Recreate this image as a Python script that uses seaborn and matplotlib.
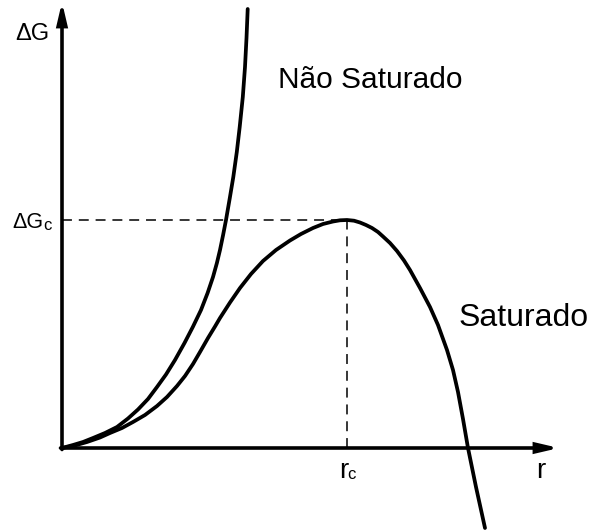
import matplotlib
matplotlib.use("Agg")
import matplotlib.pyplot as plt
import numpy as np
import pandas as pd
import seaborn as sns

# Free-energy curves ΔG(r), arbitrary units (r_c = 57, ΔG_c = 57)
r_sat = [0, 2.2, 5, 7.6, 9.6, 12, 14.2, 16.6, 19, 21,
         23, 24.6, 26.2, 27.6, 29.2, 30.6, 31.6, 33.6, 35.6, 37.8,
         40.2, 42.8, 45.6, 47.8, 50.2, 52.2, 54.2, 55.6, 57, 58.4,
         59.6, 60.8, 62, 63.2, 64.2, 65.6, 67, 68.4, 69.6, 71.6,
         73.6, 75.2, 77, 78.2, 79.2, 80.2, 81.2, 82.8, 84.6]
g_sat = [0, 0.5, 1.5, 2.625, 3.75, 5, 6.5, 8.25, 10.5, 12.75,
         15.5, 18, 21, 24, 27.5, 30.375, 32.5, 36.375, 40, 43.5,
         46.75, 49.5, 51.875, 53.5, 55, 56, 56.625, 56.925, 57, 56.825,
         56.375, 55.75, 55, 54, 52.875, 51.25, 49.25, 46.875, 44.5, 40,
         35.25, 30.75, 24.5, 19.5, 14, 7.25, 0, -9.75, -20]

r_unsat = [0, 2.2, 4.2, 6.2, 8.6, 11, 13.2, 15.2, 17.2, 19,
           20.8, 22.6, 24.5, 26.16, 27.8, 29.12, 30.2, 30.98, 31.6, 32.22,
           32.8, 33.56, 34.26, 34.96, 35.54, 36.16, 36.6, 36.9, 37.14]
g_unsat = [0, 0.75, 1.5, 2.5, 3.75, 5.25, 7.375, 9.625, 12.25, 15.25,
           18.375, 22, 26.25, 30.25, 34.5, 38.75, 42.75, 46.25, 49.5, 53.25,
           57, 62.5, 67.75, 74, 80.25, 87.75, 95.25, 102.5, 109.75]

curve_names = ["Saturado", "Não Saturado"]
r_critical = 57
g_critical = 57

sns.set_style("white")
FONT = ["Liberation Sans", "DejaVu Sans"]

W, H = 593, 531
fig = plt.figure(figsize=(W / 100, H / 100), dpi=100)
ax = fig.add_axes([0, 0, 1, 1])

# Canvas layout: origin pixel and pixels per data unit
X0, Y0, SX, SY = 62, 448, 5.0, 4.0
ax.set_xlim(-X0 / SX, (W - X0) / SX)
ax.set_ylim(-(H - Y0) / SY, Y0 / SY)
ax.axis("off")


def px(x, y):
    return ((x - X0) / SX, (Y0 - y) / SY)


df = pd.concat([
    pd.DataFrame({"r": r_sat, "dG": g_sat, "curva": curve_names[0]}),
    pd.DataFrame({"r": r_unsat, "dG": g_unsat, "curva": curve_names[1]}),
], ignore_index=True)

sns.lineplot(data=df, x="r", y="dG", hue="curva",
             palette={n: "black" for n in curve_names},
             estimator=None, sort=False, lw=2.7, legend=False, ax=ax)
for ln in ax.lines:
    ln.set_solid_capstyle("round")
    ln.set_solid_joinstyle("round")

# Critical point guides
ax.plot([0, r_critical], [g_critical, g_critical], color="black", lw=1.1,
        dashes=(6.5, 4.5))
ax.plot([r_critical, r_critical], [0, g_critical], color="black", lw=1.1,
        dashes=(6.5, 4.5))

# Axes with arrowheads
arrow = dict(arrowstyle="-|>,head_length=1.2,head_width=0.28", lw=2.6,
             color="black", shrinkA=0, shrinkB=0, joinstyle="miter")
ax.annotate("", xy=px(559, 448), xytext=px(60.5, 448), arrowprops=arrow)
ax.annotate("", xy=px(62, 2), xytext=px(62, 449.5), arrowprops=arrow)

# Labels
txt = dict(family=FONT, color="black", ha="left", va="baseline")
ax.text(*px(278, 88), "Não Saturado", fontsize=21.5, **txt)
ax.text(*px(459, 326), "Saturado", fontsize=23, **txt)
ax.text(*px(15, 40), "ΔG", fontsize=17, **txt)
ax.text(*px(12, 228), "ΔG", fontsize=15.5, **txt)
ax.text(*px(43, 230), "c", fontsize=12, **txt)
ax.text(*px(339, 478), "r", fontsize=20, **txt)
ax.text(*px(347, 479), "c", fontsize=12, **txt)
ax.text(*px(536, 478), "r", fontsize=20, **txt)

fig.savefig("out.png", dpi=100)
